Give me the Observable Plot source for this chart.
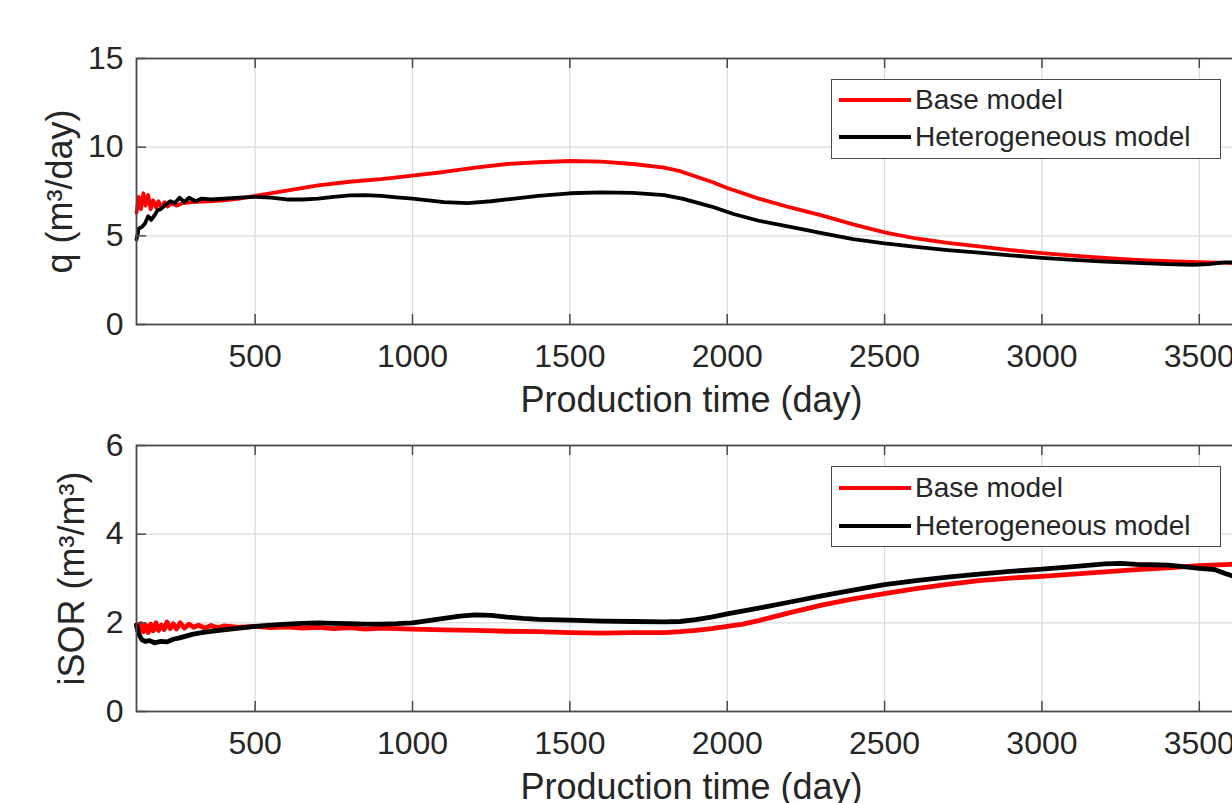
<!DOCTYPE html>
<html>
<head>
<meta charset="utf-8">
<script src="https://cdn.jsdelivr.net/npm/d3@7"></script>
<script src="https://cdn.jsdelivr.net/npm/@observablehq/plot@0.6"></script>
<style>
  html, body { margin: 0; padding: 0; background: #fff; overflow: hidden; width: 1232px; height: 803px; }
  #wrap { position: relative; width: 1232px; height: 803px; overflow: hidden; font-family: "Liberation Sans", Arial, sans-serif; }
  #wrap svg { max-width: none !important; position: absolute; left: 0; overflow: visible; }
  .legend { position: absolute; background: #fff; border: 1.5px solid #4a4a4a; box-sizing: border-box; }
  .legend .row { position: absolute; left: 0; height: 34px; width: 100%; }
  .legend .swatch { position: absolute; left: 7px; width: 72px; height: 4px; top: 15px; }
  .legend .lab { position: absolute; left: 83px; top: 0; line-height: 34px; font-size: 28px; color: #262626; white-space: nowrap; }
</style>
</head>
<body>
<div id="wrap"></div>
<script>
// ---------- data ----------
const seriesNames = ["Base model", "Heterogeneous model"];
const seriesColors = ["#ff0000", "#000000"];
const xTicks = [500, 1000, 1500, 2000, 2500, 3000, 3500];
const qTicks = [0, 5, 10, 15];
const isorTicks = [0, 2, 4, 6];
const xLabel = "Production time (day)";
const qLabel = "q (m\u00B3/day)";
const isorLabel = "iSOR (m\u00B3/m\u00B3)";

// q, Base model
const qBaseT = [123,130,137,145,152,160,168,176,185,193,202,212,222,235,250,270,300,350,400,450,500,600,700,800,900,1000,1100,1200,1300,1400,1500,1600,1700,1800,1850,1900,1950,2000,2050,2100,2200,2300,2400,2500,2600,2700,2800,2900,3000,3100,3200,3300,3400,3500,3600,3650];
const qBaseV = [6.3,7.2,6.5,7.4,6.7,7.3,6.5,7.0,6.6,6.95,6.55,6.9,6.65,6.85,6.7,6.85,6.9,6.95,7.0,7.1,7.25,7.55,7.85,8.05,8.2,8.4,8.6,8.85,9.05,9.15,9.22,9.18,9.05,8.85,8.65,8.35,8.05,7.7,7.4,7.1,6.6,6.15,5.65,5.2,4.85,4.6,4.4,4.2,4.02,3.88,3.75,3.65,3.57,3.52,3.47,3.45];
// q, Heterogeneous model
const qHetT = [123,130,140,150,160,170,180,190,200,215,230,245,260,275,290,310,330,360,400,450,500,550,600,650,700,750,800,850,900,950,1000,1050,1100,1175,1250,1300,1400,1500,1600,1700,1800,1860,1950,2020,2100,2233,2300,2400,2500,2600,2700,2800,2900,3000,3100,3200,3300,3400,3480,3530,3580,3650];
const qHetV = [4.8,5.4,5.5,5.7,6.1,5.9,6.15,6.45,6.5,6.75,6.95,6.85,7.15,6.9,7.15,6.95,7.1,7.05,7.1,7.15,7.2,7.15,7.05,7.05,7.1,7.2,7.28,7.3,7.25,7.17,7.1,7.0,6.9,6.85,6.95,7.05,7.25,7.4,7.45,7.42,7.3,7.08,6.65,6.23,5.85,5.39,5.15,4.82,4.58,4.38,4.2,4.05,3.9,3.76,3.65,3.55,3.47,3.4,3.37,3.4,3.5,3.5];

// iSOR, Base model
const isorBaseT = [123,130,137,145,152,160,168,176,185,193,202,211,220,230,240,250,262,275,290,305,320,340,360,380,400,450,500,550,600,650,700,750,800,850,900,1000,1100,1200,1300,1400,1500,1600,1700,1800,1850,1900,1950,2000,2050,2100,2150,2200,2300,2400,2500,2600,2700,2800,2900,3000,3100,3200,3300,3400,3500,3600,3650];
const isorBaseV = [1.95,1.75,1.98,1.8,1.95,1.78,1.97,1.82,2.0,1.83,1.95,1.85,2.02,1.87,1.98,1.86,2.0,1.88,1.97,1.9,1.95,1.88,1.94,1.89,1.93,1.9,1.92,1.89,1.91,1.88,1.9,1.87,1.89,1.86,1.88,1.86,1.84,1.83,1.81,1.8,1.78,1.77,1.78,1.78,1.8,1.83,1.87,1.92,1.97,2.05,2.14,2.23,2.4,2.54,2.66,2.77,2.87,2.95,3.01,3.05,3.1,3.15,3.2,3.24,3.29,3.32,3.33];
// iSOR, Heterogeneous model
const isorHetT = [123,130,140,150,165,180,200,220,240,260,280,300,330,360,400,450,500,550,600,650,700,750,800,850,900,950,1000,1050,1100,1150,1200,1250,1300,1350,1400,1500,1600,1700,1800,1850,1900,1950,2000,2100,2200,2300,2400,2500,2600,2700,2800,2900,3000,3100,3200,3250,3300,3350,3400,3450,3500,3550,3580,3610,3650];
const isorHetV = [1.95,1.75,1.62,1.58,1.6,1.55,1.58,1.57,1.63,1.66,1.7,1.74,1.78,1.81,1.84,1.88,1.92,1.95,1.97,1.99,2.0,1.99,1.98,1.97,1.97,1.98,2.0,2.05,2.1,2.15,2.18,2.17,2.13,2.1,2.08,2.06,2.04,2.03,2.02,2.03,2.07,2.13,2.2,2.33,2.47,2.61,2.74,2.86,2.95,3.03,3.1,3.16,3.21,3.27,3.33,3.34,3.32,3.31,3.3,3.27,3.23,3.2,3.12,3.05,3.04];

// ---------- build ----------
function toRows(ts, vs, name) { return ts.map((t, i) => ({t, v: vs[i], series: name})); }

const W = 1300, H = 420;
const mL = 136, mR = 54, mT = 58, mB = 96;
const plotW = W - mL - mR, plotH = H - mT - mB;
const xDomain = [123, 3650];
const axisColor = "#4a4a4a";
const textColor = "#262626";

function makePlot(rowsA, rowsB, yTicks, yDomain, yLabel, lineWidth, yLabelDx) {
  return Plot.plot({
    width: W, height: H,
    marginLeft: mL, marginRight: mR, marginTop: mT, marginBottom: mB,
    style: {fontFamily: "'Liberation Sans', Arial, sans-serif", color: textColor, background: "transparent", maxWidth: "none", overflow: "visible"},
    x: {domain: xDomain},
    y: {domain: yDomain},
    marks: [
      Plot.gridX(xTicks, {stroke: "#d9d9d9", strokeOpacity: 1, strokeWidth: 1.2}),
      Plot.gridY(yTicks, {stroke: "#d9d9d9", strokeOpacity: 1, strokeWidth: 1.2}),
      Plot.line(rowsA, {x: "t", y: "v", stroke: seriesColors[0], strokeWidth: lineWidth, curve: "linear"}),
      Plot.line(rowsB, {x: "t", y: "v", stroke: seriesColors[1], strokeWidth: lineWidth, curve: "linear"}),
      // inward ticks (MATLAB style)
      Plot.tickX(xTicks, {x: d => d, stroke: axisColor, strokeWidth: 1.5, insetTop: plotH - 10}),
      Plot.tickX(xTicks, {x: d => d, stroke: axisColor, strokeWidth: 1.5, insetBottom: plotH - 10}),
      Plot.tickY(yTicks, {y: d => d, stroke: axisColor, strokeWidth: 1.5, insetRight: plotW - 10}),
      Plot.tickY(yTicks, {y: d => d, stroke: axisColor, strokeWidth: 1.5, insetLeft: plotW - 10}),
      Plot.frame({stroke: axisColor, strokeWidth: 1.8}),
      Plot.axisX(xTicks, {tickSize: 0, tickPadding: 20, fontSize: 32, fill: textColor, label: null, tickFormat: d => String(d)}),
      Plot.axisY(yTicks, {tickSize: 0, tickPadding: 13, fontSize: 32, fill: textColor, label: null, tickFormat: d => String(d)}),
      Plot.text([xLabel], {frameAnchor: "bottom", dy: 76, fontSize: 36, fill: textColor, lineAnchor: "middle"}),
      Plot.text([yLabel], {frameAnchor: "left", dx: yLabelDx, rotate: -90, fontSize: 36, fill: textColor, lineAnchor: "middle", textAnchor: "middle"})
    ]
  });
}

const wrap = document.getElementById("wrap");

const topChart = makePlot(toRows(qBaseT, qBaseV, seriesNames[0]), toRows(qHetT, qHetV, seriesNames[1]), qTicks, [0, 15], qLabel, 3.8, -76);
topChart.style.top = "0px";
wrap.appendChild(topChart);

const bottomChart = makePlot(toRows(isorBaseT, isorBaseV, seriesNames[0]), toRows(isorHetT, isorHetV, seriesNames[1]), isorTicks, [0, 6], isorLabel, 4.8, -64);
bottomChart.style.top = "386.5px";
wrap.appendChild(bottomChart);

function addLegend(left, topPx, width, height, rowCenters) {
  const box = document.createElement("div");
  box.className = "legend";
  Object.assign(box.style, {left: left + "px", top: topPx + "px", width: width + "px", height: height + "px"});
  seriesNames.forEach((name, i) => {
    const row = document.createElement("div");
    row.className = "row";
    row.style.top = (rowCenters[i] - 17) + "px";
    const sw = document.createElement("div");
    sw.className = "swatch";
    sw.style.background = seriesColors[i];
    const lab = document.createElement("div");
    lab.className = "lab";
    lab.textContent = name;
    row.appendChild(sw); row.appendChild(lab);
    box.appendChild(row);
  });
  wrap.appendChild(box);
}
addLegend(831, 79, 390, 80, [20, 57]);
addLegend(831, 466, 390, 81, [21, 59]);
</script>
</body>
</html>
